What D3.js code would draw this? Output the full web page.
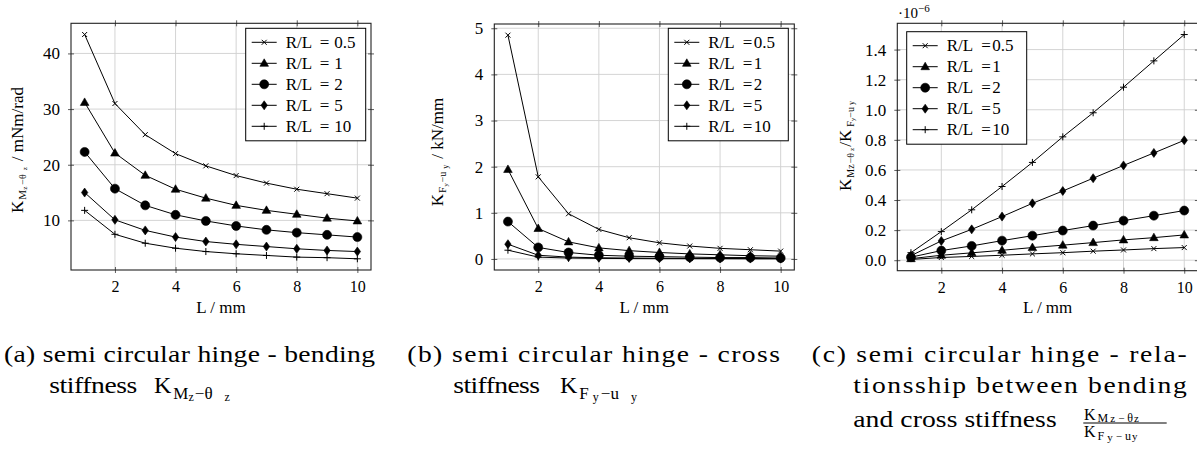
<!DOCTYPE html>
<html>
<head>
<meta charset="utf-8">
<script src="https://cdn.jsdelivr.net/npm/d3@7"></script>
</head>
<body style="margin:0; background:white">
<svg id="chart" width="1197" height="450"></svg>
<script>
const lengths = [1, 2, 3, 4, 5, 6, 7, 8, 9, 10];
const ratioLabels = ['0.5', '1', '2', '5', '10'];
const markerTypes = ['cross', 'triangle', 'circle', 'diamond', 'plus'];
const xTicks = [2, 4, 6, 8, 10];

// (a) bending stiffness K_Mz-thz in mNm/rad, one array per R/L
const bendRL05 = [43.4, 31.0, 25.4, 22.0, 19.8, 18.05, 16.7, 15.6, 14.8, 14.0];
const bendRL1 = [31.2, 22.1, 18.1, 15.6, 14.0, 12.7, 11.8, 11.1, 10.4, 9.9];
const bendRL2 = [22.3, 15.7, 12.7, 11.0, 9.9, 9.0, 8.3, 7.8, 7.4, 7.0];
const bendRL5 = [15.0, 10.1, 8.2, 7.0, 6.2, 5.7, 5.3, 4.9, 4.6, 4.4];
const bendRL10 = [11.8, 7.5, 5.9, 5.0, 4.4, 4.0, 3.7, 3.4, 3.3, 3.1];
const bendTicks = [10, 20, 30, 40];

// (b) cross stiffness K_Fy-uy in kN/mm
const crossRL05 = [4.85, 1.78, 0.98, 0.64, 0.46, 0.35, 0.28, 0.23, 0.2, 0.17];
const crossRL1 = [1.94, 0.66, 0.37, 0.24, 0.18, 0.14, 0.11, 0.09, 0.07, 0.06];
const crossRL2 = [0.81, 0.25, 0.14, 0.08, 0.06, 0.05, 0.04, 0.03, 0.03, 0.02];
const crossRL5 = [0.32, 0.08, 0.04, 0.025, 0.02, 0.015, 0.012, 0.01, 0.008, 0.007];
const crossRL10 = [0.19, 0.04, 0.02, 0.012, 0.008, 0.006, 0.005, 0.004, 0.003, 0.003];
const crossTicks = [0, 1, 2, 3, 4, 5];

// (c) ratio K_Mz-thz / K_Fy-uy, in 1e-6
const ratioRL05 = [0.005, 0.018, 0.025, 0.033, 0.042, 0.05, 0.06, 0.068, 0.077, 0.084];
const ratioRL1 = [0.01, 0.033, 0.049, 0.066, 0.084, 0.1, 0.117, 0.135, 0.15, 0.168];
const ratioRL2 = [0.02, 0.064, 0.095, 0.13, 0.163, 0.197, 0.23, 0.263, 0.296, 0.33];
const ratioRL5 = [0.03, 0.128, 0.205, 0.29, 0.378, 0.46, 0.545, 0.63, 0.713, 0.797];
const ratioRL10 = [0.05, 0.19, 0.335, 0.49, 0.65, 0.82, 0.98, 1.15, 1.325, 1.5];
const ratioTicks = [0, 0.2, 0.4, 0.6, 0.8, 1.0, 1.2, 1.4];

const FONT = 'Liberation Serif';
const svg = d3.select('#chart');
svg.append('rect').attr('width', 1197).attr('height', 450).attr('fill', 'white');

function addText(parent) {
    return parent.append('text').attr('font-family', FONT).attr('fill', 'black');
}

function markerPath(type) {
    switch (type) {
        case 'cross':
            return 'M-2.5,-2.5L2.5,2.5M-2.5,2.5L2.5,-2.5';
        case 'triangle':
            return 'M0,-4.5L4.3,3L-4.3,3Z';
        case 'circle':
            return d3.symbol(d3.symbolCircle, Math.PI * 4.5 * 4.5)();
        case 'diamond':
            return 'M0,-4.5L3.2,0L0,4.5L-3.2,0Z';
        case 'plus':
            return 'M-3.5,0L3.5,0M0,-3.5L0,3.5';
    }
}

function drawMarker(g, type, cx, cy) {
    const filled = type === 'triangle' || type === 'circle' || type === 'diamond';
    g.append('path')
        .attr('d', markerPath(type))
        .attr('transform', `translate(${cx},${cy})`)
        .attr('fill', filled ? 'black' : 'none')
        .attr('stroke', 'black')
        .attr('stroke-width', filled ? 0.6 : 1);
}

class Plot {
    constructor(svg, box, series, yTicks, yFormat, legendPos, legendCols) {
        this.svg = svg;
        this.box = box;
        this.series = series;
        this.yTicks = yTicks;
        this.yFormat = yFormat;
        this.legendPos = legendPos;
        this.legendCols = legendCols;
    }

    draw() {
        const { left, right, top, bottom } = this.box;
        // pgfplots style: 5% enlargement of the data range
        const xPad = (d3.max(lengths) - d3.min(lengths)) * 0.05;
        const yExt = d3.extent(this.series.flat());
        const yPad = (yExt[1] - yExt[0]) * 0.05;
        const x = d3.scaleLinear()
            .domain([d3.min(lengths) - xPad, d3.max(lengths) + xPad])
            .range([left, right]);
        const y = d3.scaleLinear()
            .domain([yExt[0] - yPad, yExt[1] + yPad])
            .range([bottom, top]);
        const root = this.svg.append('g');

        // grid
        root.append('g')
            .selectAll('line')
            .data(xTicks)
            .join('line')
            .attr('x1', d => x(d)).attr('x2', d => x(d))
            .attr('y1', top).attr('y2', bottom)
            .attr('stroke', '#cfcfcf').attr('stroke-width', 0.9);
        root.append('g')
            .selectAll('line')
            .data(this.yTicks)
            .join('line')
            .attr('y1', d => y(d)).attr('y2', d => y(d))
            .attr('x1', left).attr('x2', right)
            .attr('stroke', '#cfcfcf').attr('stroke-width', 0.9);

        const styleAxis = (g, size) => {
            g.attr('font-family', FONT).attr('font-size', size);
            g.select('.domain').remove();
            g.selectAll('.tick line').attr('stroke', '#333').attr('stroke-width', 0.8);
            g.selectAll('.tick text').attr('font-family', FONT).attr('font-size', size).attr('fill', 'black');
        };

        root.append('g')
            .attr('transform', `translate(0,${bottom - 3})`)
            .call(d3.axisBottom(x).tickValues(xTicks).tickSize(6).tickPadding(8))
            .call(g => styleAxis(g, 16));
        root.append('g')
            .attr('transform', `translate(0,${top + 3})`)
            .call(d3.axisTop(x).tickValues(xTicks).tickSize(6).tickFormat(() => ''))
            .call(g => styleAxis(g, 16));
        root.append('g')
            .attr('transform', `translate(${left + 3},0)`)
            .call(d3.axisLeft(y).tickValues(this.yTicks).tickSize(6).tickPadding(8).tickFormat(this.yFormat))
            .call(g => styleAxis(g, 17));
        root.append('g')
            .attr('transform', `translate(${right - 3},0)`)
            .call(d3.axisRight(y).tickValues(this.yTicks).tickSize(6).tickFormat(() => ''))
            .call(g => styleAxis(g, 17));

        // series
        const line = d3.line()
            .x((d, i) => x(lengths[i]))
            .y(d => y(d));
        this.series.forEach((values, s) => {
            root.append('path')
                .attr('d', line(values))
                .attr('fill', 'none')
                .attr('stroke', 'black')
                .attr('stroke-width', 1);
            const mg = root.append('g');
            values.forEach((v, i) => drawMarker(mg, markerTypes[s], x(lengths[i]), y(v)));
        });

        root.append('rect')
            .attr('x', left).attr('y', top)
            .attr('width', right - left).attr('height', bottom - top)
            .attr('fill', 'none').attr('stroke', '#222').attr('stroke-width', 1.1);

        addText(root)
            .attr('x', (left + right) / 2)
            .attr('y', 312.7)
            .attr('text-anchor', 'middle')
            .attr('font-size', 17)
            .text('L / mm');

        this.drawLegend(root);
        return this;
    }

    drawLegend(root) {
        const [eqX, valX] = this.legendCols;
        const lg = root.append('g')
            .attr('transform', `translate(${this.legendPos[0]},${this.legendPos[1]})`);
        lg.append('rect')
            .attr('width', 120).attr('height', 112.5)
            .attr('fill', 'white').attr('stroke', 'black').attr('stroke-width', 1);
        ratioLabels.forEach((label, i) => {
            const cy = 14 + i * 21;
            lg.append('line')
                .attr('x1', 6).attr('x2', 31)
                .attr('y1', cy).attr('y2', cy)
                .attr('stroke', 'black').attr('stroke-width', 1);
            drawMarker(lg, markerTypes[i], 18.5, cy);
            const t = addText(lg).attr('y', cy + 5.8).attr('font-size', 17);
            t.append('tspan').attr('x', 40).text('R/L');
            t.append('tspan').attr('x', eqX).text('=');
            t.append('tspan').attr('x', valX).text(label);
        });
    }
}

new Plot(svg, { left: 71, right: 371, top: 23.3, bottom: 270 },
    [bendRL05, bendRL1, bendRL2, bendRL5, bendRL10], bendTicks, d3.format('d'),
    [245.7, 28.3], [74, 88.5]).draw();
new Plot(svg, { left: 494.3, right: 794.3, top: 24, bottom: 270 },
    [crossRL05, crossRL1, crossRL2, crossRL5, crossRL10], crossTicks, d3.format('d'),
    [668.3, 28.3], [74.5, 85.5]).draw();
new Plot(svg, { left: 897.3, right: 1197.9, top: 23.3, bottom: 270.7 },
    [ratioRL05, ratioRL1, ratioRL2, ratioRL5, ratioRL10], ratioTicks, d3.format('.1f'),
    [906.7, 31.7], [74.5, 85.5]).draw();

// math-like labels: [text, font size, dy, dx]
function subText(sel, parts) {
    parts.forEach(([txt, size, dy, dx]) => {
        sel.append('tspan')
            .attr('font-size', size)
            .attr('dy', dy)
            .attr('dx', dx || 0)
            .text(txt);
    });
    return sel;
}

subText(addText(svg)
    .attr('transform', 'translate(22.5,150) rotate(-90)')
    .attr('text-anchor', 'middle'),
    [['K', 17, 0], ['M', 11, 3, 1], ['z', 7, 1.5], ['−θ', 10, -1.5, 2], ['z', 7, 1.5, 4], ['/ mNm/rad', 17, -4.5, 6]]);
subText(addText(svg)
    .attr('transform', 'translate(443,152) rotate(-90)')
    .attr('text-anchor', 'middle'),
    [['K', 17, 0], ['F', 11, 3, 1], ['y', 7, 1.5], ['−u', 10, -1.5, 1], ['y', 8, 1.5, 3], ['/ kN/mm', 17, -4.5, 6]]);
subText(addText(svg)
    .attr('transform', 'translate(851,146) rotate(-90)')
    .attr('text-anchor', 'middle'),
    [['K', 17, 0], ['Mz', 10, 3, 1], ['−θ', 10, 0, 1], ['z', 7, 0, 2], ['/K', 17, -3, 1], ['F', 10, 3, 3], ['y', 7, 1], ['−u', 10, -1], ['y', 8, 0, 2]]);

const expo = addText(svg).attr('x', 898).attr('y', 18).attr('font-size', 15);
expo.append('tspan').text('·10');
expo.append('tspan').attr('font-size', 11).attr('dy', -6).text('−6');

// captions: glyphs a bit wider than normal, then letter spacing fills the line
const stretch = 1.15;
function captionLine(str, x0, x1, yBase) {
    addText(svg.append('g').attr('transform', `translate(${x0},${yBase}) scale(${stretch},1)`))
        .attr('x', 0)
        .attr('y', 0)
        .attr('font-size', 24)
        .attr('textLength', (x1 - x0) / stretch)
        .attr('lengthAdjust', 'spacing')
        .text(str);
}

captionLine('(a) semi circular hinge - bending', 4, 375, 361.7);
captionLine('stiffness', 49.3, 137.3, 393.3);
captionLine('(b) semi circular hinge - cross', 407.3, 780, 361.7);
captionLine('stiffness', 453.3, 540, 393.3);
captionLine('(c) semi circular hinge - rela-', 811.7, 1186.7, 361.7);
captionLine('tionsship between bending', 853.3, 1186.7, 392.7);
captionLine('and cross stiffness', 853.3, 1056.7, 427);

subText(addText(svg).attr('x', 154).attr('y', 393.3),
    [['K', 24, 0], ['M', 17, 6, 2], ['z', 12, 2], ['−θ', 17, -2, 1], ['z', 12, 2, 12]]);
subText(addText(svg).attr('x', 560).attr('y', 393.3),
    [['K', 24, 0], ['F', 17, 6, 2], ['y', 12, 2, 4], ['−u', 17, -2, 2], ['y', 12, 2, 12]]);

subText(addText(svg).attr('x', 1084).attr('y', 420),
    [['K', 16, 0], ['M', 12, 2, 2], ['z', 11, 0, 2], ['−', 11, 0, 3], ['θ', 12, 0, 3], ['z', 11, 0, 1]]);
svg.append('line')
    .attr('x1', 1083.3).attr('x2', 1166.7)
    .attr('y1', 423).attr('y2', 423)
    .attr('stroke', 'black').attr('stroke-width', 1);
subText(addText(svg).attr('x', 1084).attr('y', 436.5),
    [['K', 16, 0], ['F', 12, 3, 2], ['y', 11, 1, 3], ['−', 11, -1, 3], ['u', 12, 0, 3], ['y', 11, 0, 1]]);
</script>
</body>
</html>
